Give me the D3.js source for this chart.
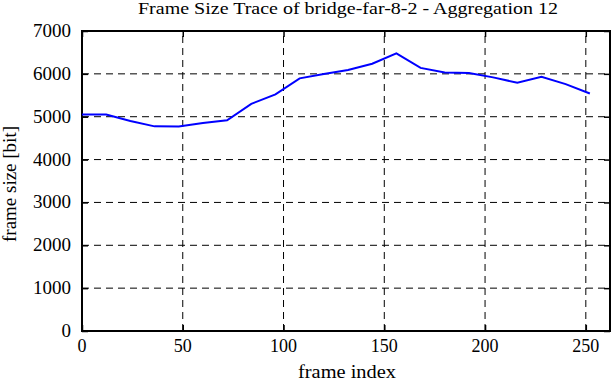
<!DOCTYPE html>
<html>
<head>
<meta charset="utf-8">
<script src="https://cdn.jsdelivr.net/npm/d3@7"></script>
<style>
body { margin: 0; background: #fff; }
svg text { font-family: "Liberation Serif", serif; fill: #000; }
</style>
</head>
<body>
<script>
var width = 612;
var height = 382;

// frame index (aggregation of 12 frames) and frame size in bits
var frameIndex = [0, 12, 24, 36, 48, 60, 72, 84, 96, 108, 120, 132, 144, 156, 168, 180, 192, 204, 216, 228, 240, 252];
var frameSize = [5050, 5050, 4900, 4775, 4772, 4855, 4918, 5300, 5520, 5895, 5995, 6090, 6235, 6480, 6140, 6030, 6022, 5918, 5792, 5930, 5760, 5543];
var xTicks = [0, 50, 100, 150, 200, 250];
var yTicks = [0, 1000, 2000, 3000, 4000, 5000, 6000, 7000];

var margin = {left: 82, right: 2, top: 31, bottom: 51};

var svg = d3.select("body")
			.append("svg")
			.attr("width", width)
			.attr("height", height);

var x = d3.scaleLinear()
		  .domain([0, 262])
		  .range([margin.left, width - margin.right]);

var y = d3.scaleLinear()
		  .domain([0, 7000])
		  .range([height - margin.bottom, margin.top]);

// dashed grid
svg.append("g")
	.selectAll("line")
	.data(xTicks.slice(1))
	.enter()
	.append("line")
	.attr("x1", function(d){return x(d)})
	.attr("x2", function(d){return x(d)})
	.attr("y1", y(0))
	.attr("y2", y(7000))
	.attr("stroke", "#000")
	.attr("stroke-width", 1)
	.attr("stroke-dasharray", "7,5");

svg.append("g")
	.selectAll("line")
	.data(yTicks.slice(1, -1))
	.enter()
	.append("line")
	.attr("x1", x(0))
	.attr("x2", x(262))
	.attr("y1", function(d){return y(d)})
	.attr("y2", function(d){return y(d)})
	.attr("stroke", "#000")
	.attr("stroke-width", 1)
	.attr("stroke-dasharray", "7,5");

// inward ticks on all four sides
var axes = [
	svg.append("g").attr("transform", "translate(0," + y(0) + ")")
		.call(d3.axisBottom(x).tickValues(xTicks).tickSize(-6).tickFormat("")),
	svg.append("g").attr("transform", "translate(0," + y(7000) + ")")
		.call(d3.axisTop(x).tickValues(xTicks).tickSize(-6).tickFormat("")),
	svg.append("g").attr("transform", "translate(" + x(0) + ",0)")
		.call(d3.axisLeft(y).tickValues(yTicks).tickSize(-6).tickFormat("")),
	svg.append("g").attr("transform", "translate(" + x(262) + ",0)")
		.call(d3.axisRight(y).tickValues(yTicks).tickSize(-6).tickFormat(""))
];
axes.forEach(function(g){
	g.select(".domain").remove();
	g.selectAll("line").attr("stroke", "#000").attr("stroke-width", 1.5);
	g.selectAll("text").remove();
});

// tick labels
svg.append("g")
	.selectAll("text")
	.data(xTicks)
	.enter()
	.append("text")
	.attr("x", function(d){return x(d)})
	.attr("y", y(0) + 21)
	.attr("text-anchor", "middle")
	.attr("font-size", 18)
	.text(function(d){return d});

svg.append("g")
	.selectAll("text")
	.data(yTicks)
	.enter()
	.append("text")
	.attr("x", x(0) - 11)
	.attr("y", function(d){return y(d) + 6})
	.attr("text-anchor", "end")
	.attr("font-size", 19)
	.text(function(d){return d});

// border
svg.append("rect")
	.attr("x", x(0))
	.attr("y", y(7000))
	.attr("width", x(262) - x(0))
	.attr("height", y(0) - y(7000))
	.attr("fill", "none")
	.attr("stroke", "#000")
	.attr("stroke-width", 2);

// trace line
var line = d3.line()
			 .x(function(d, i){return x(frameIndex[i])})
			 .y(function(d){return y(d)});

svg.append("path")
	.datum(frameSize)
	.attr("fill", "none")
	.attr("stroke", "#0000ff")
	.attr("stroke-width", 2)
	.attr("d", line);

// titles
var midX = (x(0) + x(262)) / 2;

svg.append("text")
	.attr("x", midX + 2)
	.attr("y", 14)
	.attr("text-anchor", "middle")
	.attr("font-size", 17)
	.attr("textLength", 420)
	.attr("lengthAdjust", "spacingAndGlyphs")
	.text("Frame Size Trace of bridge-far-8-2 - Aggregation 12");

svg.append("text")
	.attr("x", midX + 1)
	.attr("y", 378)
	.attr("text-anchor", "middle")
	.attr("font-size", 18)
	.attr("textLength", 98)
	.attr("lengthAdjust", "spacingAndGlyphs")
	.text("frame index");

svg.append("text")
	.attr("transform", "translate(16," + ((y(0) + y(7000)) / 2 + 3) + ") rotate(-90)")
	.attr("text-anchor", "middle")
	.attr("font-size", 18)
	.attr("textLength", 116)
	.attr("lengthAdjust", "spacingAndGlyphs")
	.text("frame size [bit]");
</script>
</body>
</html>
